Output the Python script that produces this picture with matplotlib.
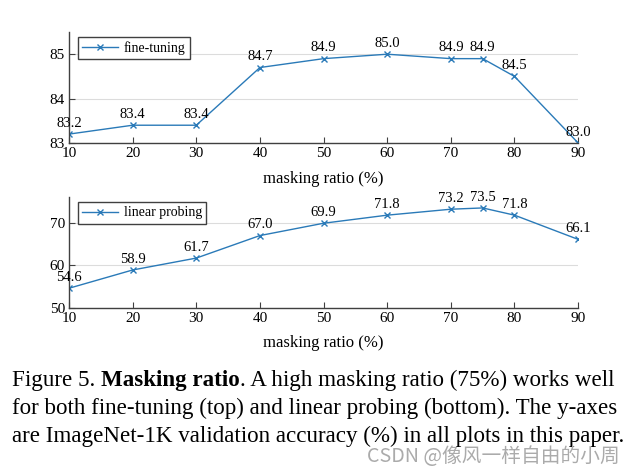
import matplotlib
matplotlib.use('Agg')
import matplotlib.pyplot as plt

plt.rcParams['font.family'] = ['Liberation Serif', 'DejaVu Serif']

# masking ratio (%) and accuracy values
ratios = [10, 20, 30, 40, 50, 60, 70, 75, 80, 90]
ft_acc = [83.2, 83.4, 83.4, 84.7, 84.9, 85.0, 84.9, 84.9, 84.5, 83.0]
lin_acc = [54.6, 58.9, 61.7, 67.0, 69.9, 71.8, 73.2, 73.5, 71.8, 66.1]
xticks = [10, 20, 30, 40, 50, 60, 70, 80, 90]
ft_yticks = [83, 84, 85]
lin_yticks = [50, 60, 70]

line_color = '#2a7ab8'
spine_color = '#404040'

fig = plt.figure(figsize=(6.36, 4.75), dpi=100)
ax1 = fig.add_axes([0.1085, 0.699, 0.8005, 0.2336])
ax2 = fig.add_axes([0.1085, 0.352, 0.8005, 0.2326])


def draw(ax, y, label, ylim, yticks, labelpad):
    ax.plot(ratios, y, color=line_color, lw=1.0, marker='x', ms=4,
            mew=1.0, label=label)
    for xv, yv in zip(ratios, y):
        ax.annotate(f'{yv:.1f}', (xv, yv), xytext=(0, 3),
                    textcoords='offset points', ha='center', va='bottom',
                    fontsize=10.5)
    ax.set_xlim(10, 90)
    ax.set_ylim(*ylim)
    ax.set_xticks(xticks)
    ax.set_yticks(yticks)
    ax.tick_params(direction='in', labelsize=11, color=spine_color,
                   length=4, pad=3)
    ax.yaxis.grid(True, color='#dcdcdc', lw=0.8)
    ax.set_axisbelow(True)
    for s in ['top', 'right']:
        ax.spines[s].set_visible(False)
    for s in ['left', 'bottom']:
        ax.spines[s].set_color(spine_color)
        ax.spines[s].set_linewidth(1.0)
    ax.set_xlabel('masking ratio (%)', fontsize=12, labelpad=labelpad)
    leg = ax.legend(loc='upper left', fontsize=10, fancybox=False,
                    framealpha=1, edgecolor=spine_color, handlelength=2.6,
                    borderpad=0.3, handletextpad=0.4, borderaxespad=0,
                    bbox_to_anchor=(0.018, 0.955))
    leg.get_frame().set_linewidth(1.0)


draw(ax1, ft_acc, 'fine-tuning', (83, 85.5), ft_yticks, 8)
draw(ax2, lin_acc, 'linear probing', (50, 76), lin_yticks, 7)

# caption
cap_size = 16.6
base1 = 1 - 386 / 475
t1 = fig.text(0.019, base1, 'Figure 5. ', fontsize=cap_size, va='baseline')
t2 = fig.text(0, base1, 'Masking ratio', fontsize=cap_size, weight='bold',
              va='baseline')
t3 = fig.text(0, base1, '. A high masking ratio (75%) works well',
              fontsize=cap_size, va='baseline')
fig.canvas.draw()
r = fig.canvas.get_renderer()
bb1 = t1.get_window_extent(r)
t2.set_x(bb1.x1 / fig.bbox.width)
fig.canvas.draw()
bb2 = t2.get_window_extent(r)
t3.set_x(bb2.x1 / fig.bbox.width)
fig.text(0.019, 1 - 414 / 475,
         'for both fine-tuning (top) and linear probing (bottom). The y-axes',
         fontsize=cap_size, va='baseline')
fig.text(0.019, 1 - 442 / 475,
         'are ImageNet-1K validation accuracy (%) in all plots in this paper.',
         fontsize=cap_size, va='baseline')

# watermark
fig.text(0.975, 1 - 462 / 475, 'CSDN @像风一样自由的小周', fontsize=14.2,
         color='#ababab', ha='right', va='baseline',
         family=['Noto Sans CJK SC', 'DejaVu Sans'])

fig.savefig('out.png', dpi=100)
